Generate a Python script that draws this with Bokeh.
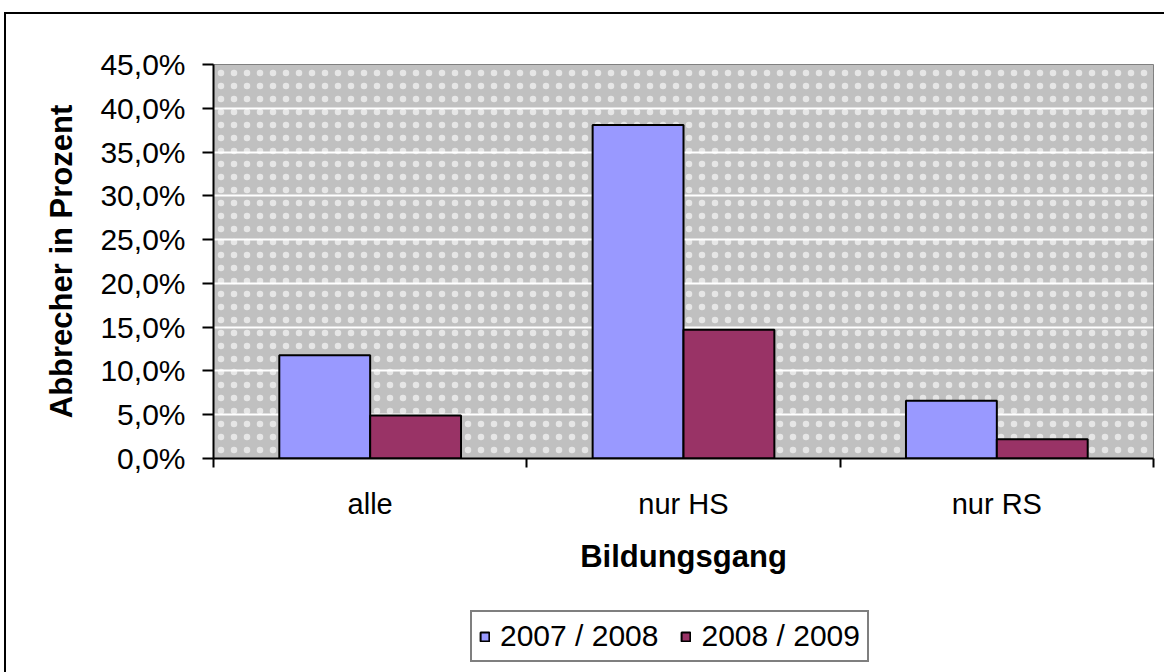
from bokeh.plotting import figure
from bokeh.layouts import column
from bokeh.models import (Range1d, FixedTicker, BoxAnnotation, Legend, LegendItem,
                          ColumnDataSource)
from bokeh.transform import dodge
from bokeh.embed import file_html
from bokeh.resources import INLINE

categories = ["alle", "nur HS", "nur RS"]
series_names = ["2007 / 2008", "2008 / 2009"]
values_2007_2008 = [11.8, 38.1, 6.6]
values_2008_2009 = [4.9, 14.7, 2.2]
series_colors = ["#9999FF", "#993366"]
y_ticks = [0, 5, 10, 15, 20, 25, 30, 35, 40, 45]
y_tick_labels = [f"{t:.1f}".replace(".", ",") + "%" for t in y_ticks]

FONT = "Liberation Sans"
FS = "29px"
FS_BOLD = "31px"

src = ColumnDataSource(dict(
    x=[i + 0.5 for i in range(len(categories))],
    a=values_2007_2008,
    b=values_2008_2009,
))

p = figure(width=1158, height=580, output_backend="svg", toolbar_location=None,
           x_range=Range1d(0, len(categories)), y_range=Range1d(0, 45),
           min_border_left=207, min_border_top=50, min_border_right=11,
           min_border_bottom=136)

p.background_fill_color = "#C0C0C0"
p.border_fill_color = "white"
p.outline_line_color = "#808080"
p.outline_line_width = 1

# dotted pattern fill of the plot area
dots = BoxAnnotation(fill_alpha=0, line_alpha=0, hatch_pattern="dot",
                     hatch_color="white", hatch_alpha=0.6,
                     hatch_scale=13, hatch_weight=1, level="image")
p.add_layout(dots)

w = 0.29
r1 = p.vbar(x=dodge("x", -0.145), top="a", width=w, source=src,
            fill_color=series_colors[0], line_color="black", line_width=2)
r2 = p.vbar(x=dodge("x", 0.145), top="b", width=w, source=src,
            fill_color=series_colors[1], line_color="black", line_width=2)

# y axis
p.yaxis.ticker = FixedTicker(ticks=y_ticks)
p.yaxis.major_label_overrides = {t: l for t, l in zip(y_ticks, y_tick_labels)}
p.yaxis.minor_tick_line_color = None
p.yaxis.major_tick_in = 0
p.yaxis.major_tick_out = 11
p.yaxis.major_tick_line_width = 2
p.yaxis.axis_line_width = 2
p.yaxis.major_label_text_font = FONT
p.yaxis.major_label_text_font_size = "30px"
p.yaxis.major_label_text_color = "black"
p.yaxis.major_label_standoff = 17
p.yaxis.axis_label = "Abbrecher in Prozent"
p.yaxis.axis_label_text_font = FONT
p.yaxis.axis_label_text_font_size = FS_BOLD
p.yaxis.axis_label_text_font_style = "bold"
p.yaxis.axis_label_text_color = "black"
p.yaxis.axis_label_standoff = 18

# x axis: labels at category centres, ticks at category boundaries
p.xaxis.ticker = FixedTicker(ticks=[i + 0.5 for i in range(len(categories))],
                             minor_ticks=list(range(len(categories) + 1)))
p.xaxis.major_label_overrides = {i + 0.5: c for i, c in enumerate(categories)}
p.xaxis.major_tick_line_color = None
p.xaxis.minor_tick_in = 0
p.xaxis.minor_tick_out = 9
p.xaxis.minor_tick_line_width = 2
p.xaxis.minor_tick_line_color = "black"
p.xaxis.axis_line_width = 2
p.xaxis.major_label_text_font = FONT
p.xaxis.major_label_text_font_size = FS
p.xaxis.major_label_text_color = "black"
p.xaxis.major_label_standoff = 20
p.xaxis.axis_label = "Bildungsgang"
p.xaxis.axis_label_text_font = FONT
p.xaxis.axis_label_text_font_size = FS_BOLD
p.xaxis.axis_label_text_font_style = "bold"
p.xaxis.axis_label_text_color = "black"
p.xaxis.axis_label_standoff = 16

p.xgrid.grid_line_color = None
p.ygrid.ticker = FixedTicker(ticks=y_ticks)
p.ygrid.grid_line_color = "white"
p.ygrid.grid_line_width = 2

# legend strip below the chart (frame aligned with the chart frame)
lf = figure(width=1158, height=90, output_backend="svg", toolbar_location=None,
            x_range=Range1d(0, 1), y_range=Range1d(0, 1),
            x_axis_location=None, y_axis_location=None, min_border=0)
lf.grid.visible = False
lf.outline_line_color = None
lf.background_fill_color = "white"
lf.border_fill_color = "white"
# zero-size key renderers (only their legend swatches are seen)
key1 = lf.vbar(x=[0.5], top=[0], bottom=[0], width=0, fill_color=series_colors[0],
               line_color="black", line_width=2)
key2 = lf.vbar(x=[0.5], top=[0], bottom=[0], width=0, fill_color=series_colors[1],
               line_color="black", line_width=2)

legend = Legend(items=[LegendItem(label=series_names[0], renderers=[key1]),
                       LegendItem(label=series_names[1], renderers=[key2])],
                orientation="horizontal", location=(257, 22),
                label_text_font=FONT, label_text_font_size="30px",
                label_text_color="black",
                glyph_width=11, glyph_height=11, label_standoff=10,
                spacing=22, padding=7, margin=0,
                border_line_color="black", border_line_width=2,
                background_fill_color="white", background_fill_alpha=1)
lf.add_layout(legend, "center")

layout = column(p, lf, spacing=0,
                styles={"margin-left": "4px", "margin-top": "12px",
                        "border-left": "2px solid black",
                        "border-top": "2px solid black"})

open("out.html", "w").write(file_html(layout, INLINE))
